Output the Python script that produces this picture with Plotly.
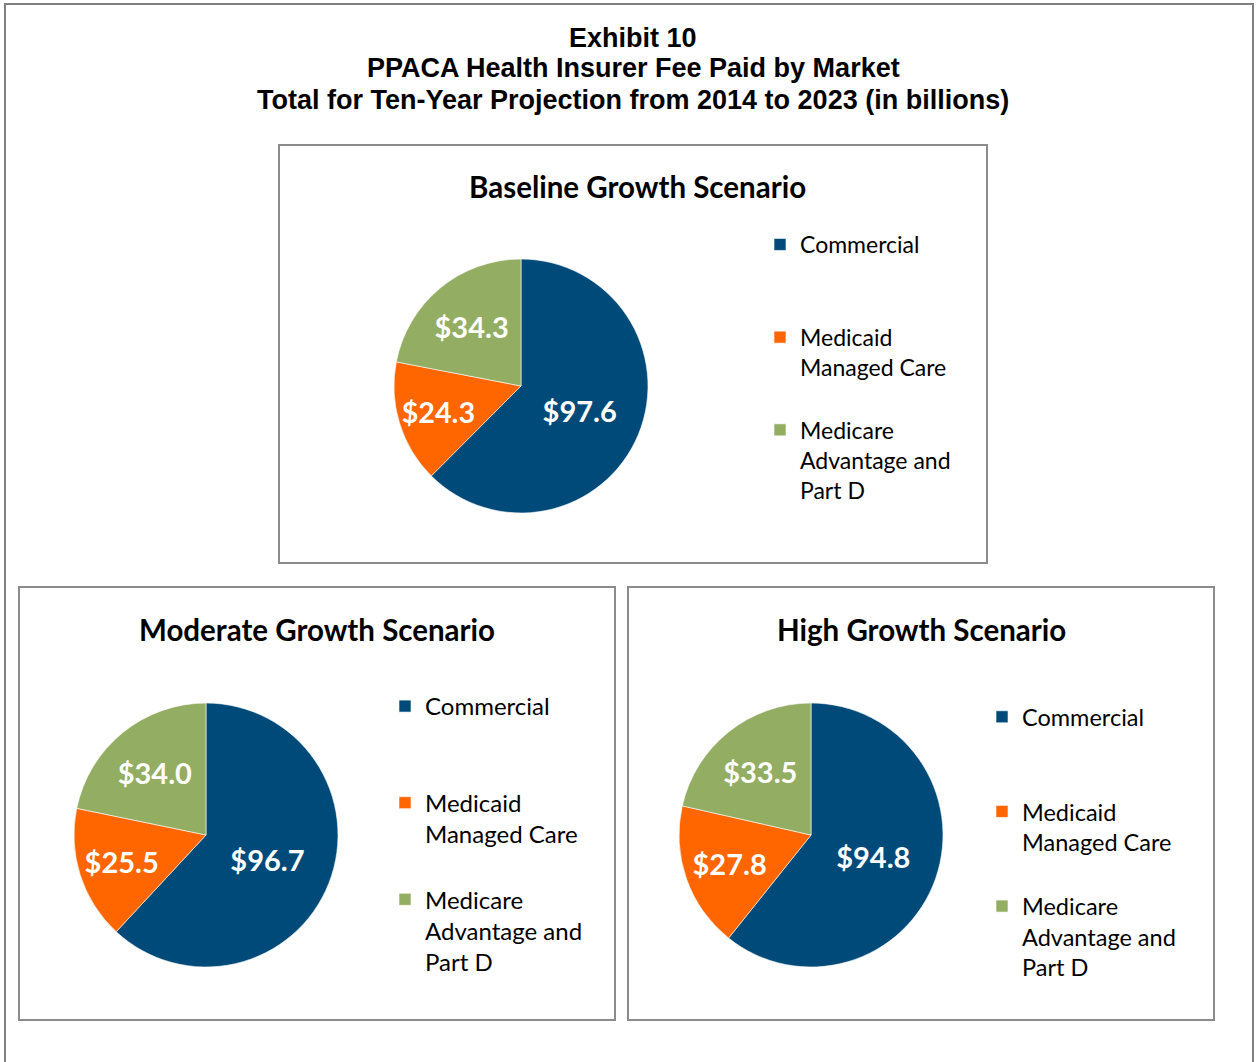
import plotly.graph_objects as go

# ---- data ----
markets = ["Commercial", "Medicaid<br>Managed Care", "Medicare<br>Advantage and<br>Part D"]
scenarios = ["Baseline Growth Scenario", "Moderate Growth Scenario", "High Growth Scenario"]
baseline_values = [97.6, 24.3, 34.3]
moderate_values = [96.7, 25.5, 34.0]
high_values = [94.8, 27.8, 33.5]
title_lines = ["Exhibit 10",
               "PPACA Health Insurer Fee Paid by Market",
               "Total for Ten-Year Projection from 2014 to 2023 (in billions)"]

colors = ["#004A7A", "#FF6600", "#93AD62"]

W, H = 1256, 1062


def px(x):
    return x / W


def py(y):
    return 1 - y / H


# pad legend entries to equal line count so items are evenly spaced like the original
max_lines = max(m.count("<br>") + 1 for m in markets)


def legend_labels(k):
    # zero-width spaces keep each pie's legend entries distinct so every panel gets its own legend
    return [m + "<br> " * (max_lines - (m.count("<br>") + 1)) + "\u200b" * k for m in markets]


# layout specs (pixel geometry)
panels = [
    dict(values=baseline_values, title=scenarios[0], cx=521, cy=386, r=127,
         box=(279, 145, 987, 563), title_xy=(637, 186), leg=("legend", 760, 223, 23)),
    dict(values=moderate_values, title=scenarios[1], cx=206, cy=835, r=132,
         box=(19, 587, 615, 1020), title_xy=(317, 629), leg=("legend2", 385, 684, 24)),
    dict(values=high_values, title=scenarios[2], cx=811, cy=835, r=132,
         box=(628, 587, 1214, 1020), title_xy=(921, 629), leg=("legend3", 982, 695, 23.5)),
]

fig = go.Figure()
shapes = [dict(type="rect", xref="paper", yref="paper",
               x0=px(5), x1=px(1253), y0=py(1080), y1=py(4),
               line=dict(color="#808080", width=2), fillcolor="rgba(0,0,0,0)", layer="below")]
annotations = []
legend_layouts = {}

for k, p in enumerate(panels):
    fig.add_trace(go.Pie(
        labels=legend_labels(k),
        values=p["values"],
        sort=False,
        direction="clockwise",
        rotation=0,
        marker=dict(colors=colors, line=dict(color="white", width=0.6)),
        texttemplate="$%{value:.1f}",
        textposition="inside",
        insidetextorientation="horizontal",
        textfont=dict(family="Lato", size=29, color="white", weight="bold"),
        domain=dict(x=[px(p["cx"] - p["r"]), px(p["cx"] + p["r"])],
                    y=[py(p["cy"] + p["r"]), py(p["cy"] - p["r"])]),
        legend=p["leg"][0],
        hovertemplate="%{label}: $%{value:.1f}B<extra></extra>",
    ))
    x0, y0, x1, y1 = p["box"]
    shapes.append(dict(type="rect", xref="paper", yref="paper",
                       x0=px(x0), x1=px(x1), y0=py(y1), y1=py(y0),
                       line=dict(color="#8C8C8C", width=2), fillcolor="white", layer="below"))
    annotations.append(dict(text="<b>%s</b>" % p["title"], xref="paper", yref="paper",
                            x=px(p["title_xy"][0]), y=py(p["title_xy"][1]),
                            xanchor="center", yanchor="middle", showarrow=False,
                            font=dict(family="Lato", size=29.5, color="black")))
    legend_layouts[p["leg"][0]] = dict(
        x=px(p["leg"][1]), y=py(p["leg"][2]), xanchor="left", yanchor="top",
        bgcolor="rgba(0,0,0,0)", valign="top", traceorder="normal",
        font=dict(family="Lato", size=p["leg"][3], color="black"), itemclick=False,
    )

for i, (line, yy) in enumerate(zip(title_lines, [38, 68, 100])):
    annotations.append(dict(text="<b>%s</b>" % line, xref="paper", yref="paper",
                            x=px(633), y=py(yy), xanchor="center", yanchor="middle",
                            showarrow=False,
                            font=dict(family="Liberation Sans", size=27, color="black")))

fig.update_layout(
    width=W, height=H,
    margin=dict(l=0, r=0, t=0, b=0),
    paper_bgcolor="white",
    plot_bgcolor="white",
    showlegend=True,
    shapes=shapes,
    annotations=annotations,
    **legend_layouts,
)

fig.write_html("out.html",
               config={"displayModeBar": False},
               post_script="document.body.style.margin='0';document.body.style.overflow='hidden';")
